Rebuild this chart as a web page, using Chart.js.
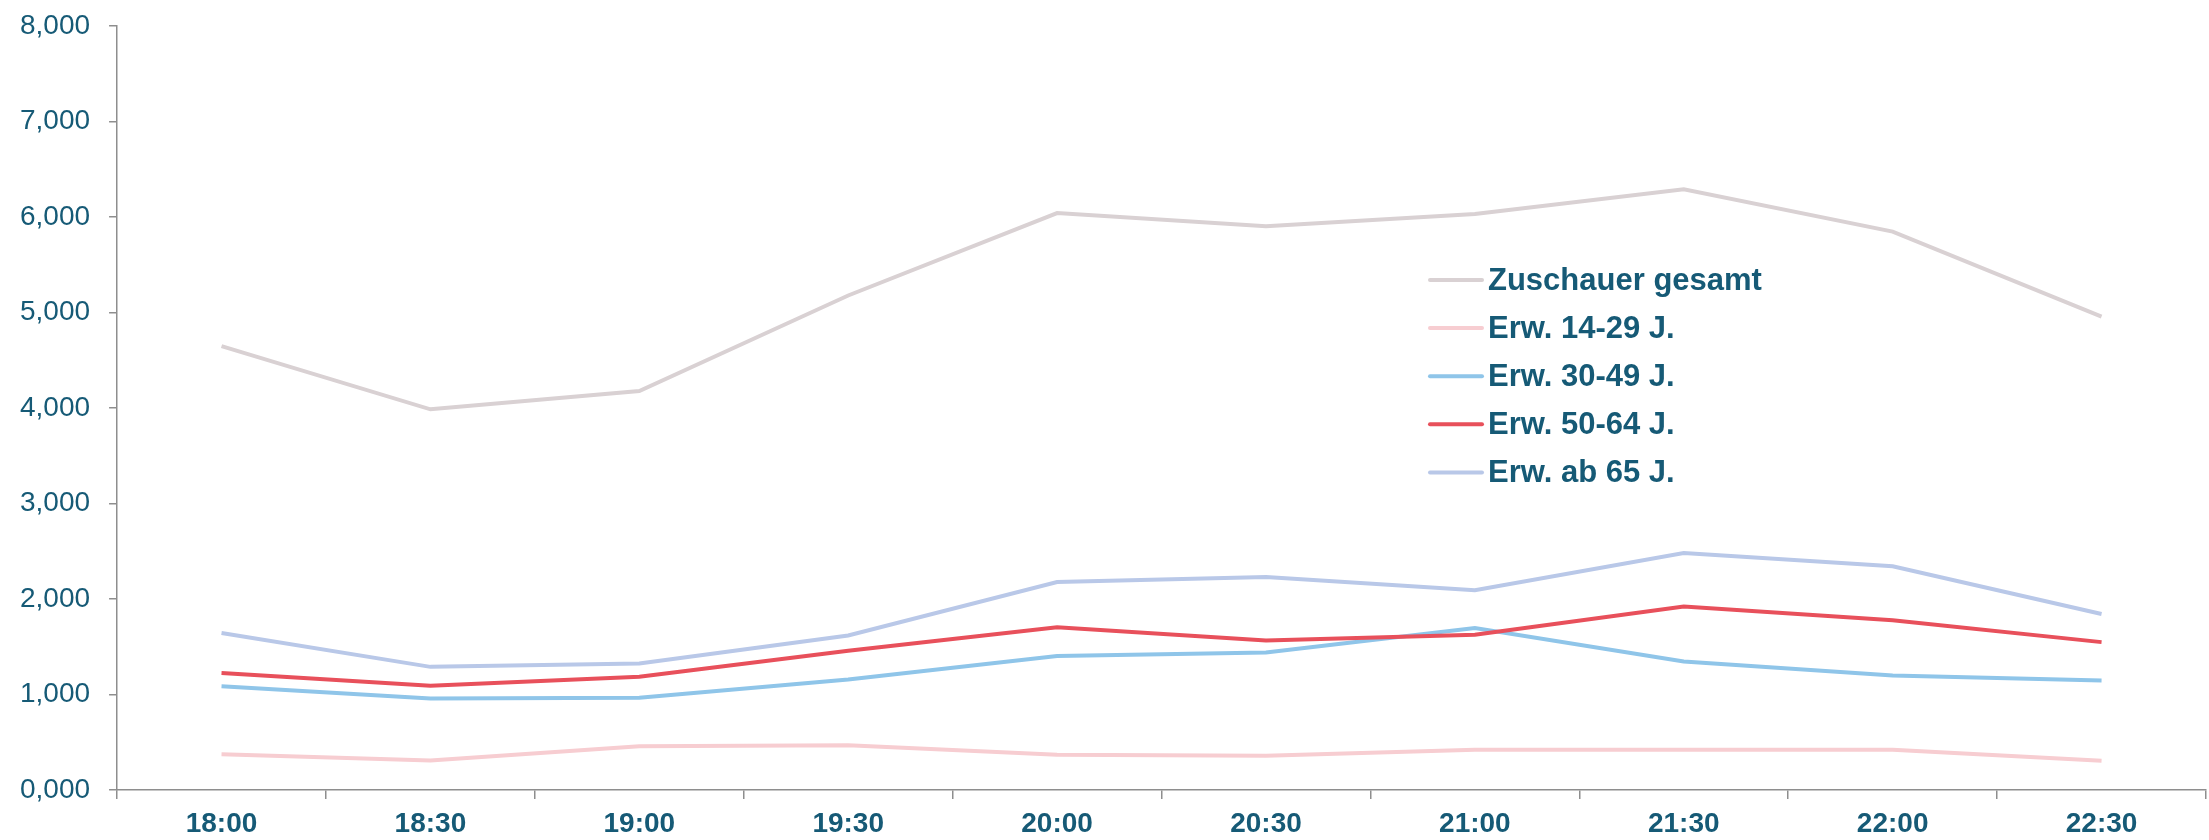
<!DOCTYPE html>
<html>
<head>
<meta charset="utf-8">
<script src="https://cdn.jsdelivr.net/npm/chart.js@4.4.1/dist/chart.umd.min.js"></script>
<style>
  html, body { margin: 0; padding: 0; background: #fff; overflow: hidden; }
  /* etwas höher als das Fenster, damit die 8,000 so weit oben sitzt wie im Original */
  #zuschauer { display: block; margin-top: -10px; }
</style>
</head>
<body>
<canvas id="zuschauer" width="2209" height="850"></canvas>
<script>
// Zuschauer in Mio. je halbe Stunde
const zeiten = ['18:00', '18:30', '19:00', '19:30', '20:00', '20:30', '21:00', '21:30', '22:00', '22:30'];

const gesamt   = [4.646, 3.985, 4.176, 5.177, 6.040, 5.901, 6.031, 6.289, 5.845, 4.956];
const erw1429  = [0.375, 0.310, 0.457, 0.469, 0.370, 0.358, 0.422, 0.422, 0.422, 0.306];
const erw3049  = [1.086, 0.957, 0.966, 1.156, 1.402, 1.440, 1.695, 1.345, 1.199, 1.147];
const erw5064  = [1.225, 1.091, 1.186, 1.458, 1.703, 1.566, 1.626, 1.920, 1.777, 1.548];
const erwAb65  = [1.643, 1.289, 1.324, 1.617, 2.178, 2.230, 2.092, 2.480, 2.342, 1.842];

const serienNamen = ['Zuschauer gesamt', 'Erw. 14-29 J.', 'Erw. 30-49 J.', 'Erw. 50-64 J.', 'Erw. ab 65 J.'];
const serienDaten = [gesamt, erw1429, erw3049, erw5064, erwAb65];
const farben = ['#d9d1d3', '#f7cdd1', '#8fc5e9', '#e8505b', '#b9c8e8'];

const TEXTFARBE = '#165a76';
const ACHSENFARBE = '#8e8e8e';

// Legende direkt in die Zeichenfläche (wie im Original rechts oben)
const legendePlugin = {
    id: 'legendeImDiagramm',
    afterDraw(chart) {
        const ctx = chart.ctx;
        const x0 = 1430, x1 = 1482, xText = 1488;
        const yStart = 290, abstand = 48.1; // Canvas ist um 10px nach oben verschoben
        ctx.save();
        ctx.font = 'bold 31px "Liberation Sans", Arial, sans-serif';
        ctx.textBaseline = 'middle';
        ctx.textAlign = 'left';
        chart.data.datasets.forEach((ds, i) => {
            const y = yStart + i * abstand;
            ctx.strokeStyle = ds.borderColor;
            ctx.lineWidth = 4;
            ctx.lineCap = 'round';
            ctx.beginPath();
            ctx.moveTo(x0, y);
            ctx.lineTo(x1, y);
            ctx.stroke();
            ctx.fillStyle = TEXTFARBE;
            ctx.fillText(ds.label, xText, y + 1);
        });
        ctx.restore();
    }
};

new Chart(document.getElementById('zuschauer'), {
    type: 'line',
    data: {
        labels: zeiten,
        datasets: serienNamen.map((name, i) => ({
            label: name,
            data: serienDaten[i],
            borderColor: farben[i],
            backgroundColor: farben[i],
            borderWidth: 4,
            pointRadius: 0,
            tension: 0,
            order: 5 - i
        }))
    },
    options: {
        responsive: false,
        animation: false,
        layout: { padding: { top: 0, right: 3, left: 1, bottom: -9 } },
        plugins: {
            legend: { display: false },
            tooltip: { enabled: false }
        },
        scales: {
            x: {
                offset: true,
                grid: {
                    offset: true,
                    drawOnChartArea: false,
                    tickLength: 9,
                    color: ACHSENFARBE,
                    lineWidth: 1.5
                },
                border: { color: ACHSENFARBE, width: 1.5 },
                ticks: {
                    color: TEXTFARBE,
                    padding: 11,
                    maxRotation: 0,
                    font: { family: '"Liberation Sans", Arial, sans-serif', size: 28, weight: 'bold', lineHeight: 1 }
                }
            },
            y: {
                min: 0,
                max: 8,
                grid: {
                    drawOnChartArea: false,
                    tickLength: 8,
                    color: ACHSENFARBE,
                    lineWidth: 1.5
                },
                border: { color: ACHSENFARBE, width: 1.5 },
                ticks: {
                    stepSize: 1,
                    color: TEXTFARBE,
                    padding: 19,
                    font: { family: '"Liberation Sans", Arial, sans-serif', size: 28 },
                    callback: v => v.toFixed(3).replace('.', ',')
                }
            }
        }
    },
    plugins: [legendePlugin]
});
</script>
</body>
</html>
